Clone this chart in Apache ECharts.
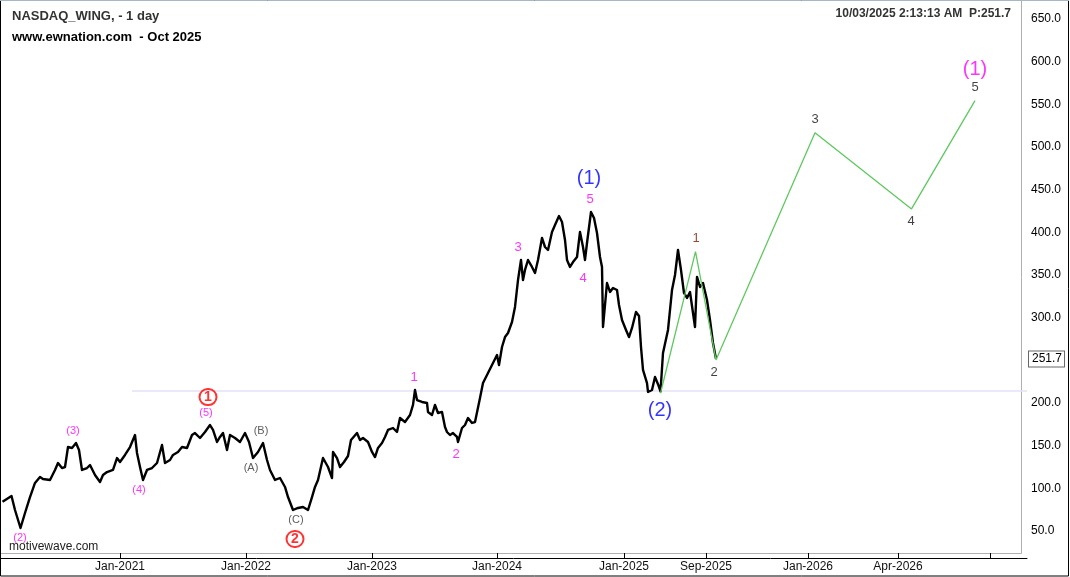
<!DOCTYPE html>
<html>
<head>
<meta charset="utf-8">
<script src="https://cdn.jsdelivr.net/npm/echarts@6/dist/echarts.min.js"></script>
<style>
html, body { margin: 0; padding: 0; background: #fff; }
#chart { width: 1070px; height: 577px; }
</style>
</head>
<body>
<div id="chart"></div>
<script>
// x = bar number: one per trading day in the history, two per calendar day in the projection
const history = [
  [5,84.3],[23,91.0],[30,74.6],[41,53.5],[50,71.1],[60,89.8],[70,106.3],[80,113.3],[86,110.9],[100,109.8],
  [110,121.5],[116,129.7],[124,123.8],[130,125.0],[136,148.4],[144,147.3],[152,153.1],[158,144.9],[164,121.5],[174,123.8],
  [180,127.3],[190,115.6],[200,107.4],[206,115.6],[214,119.1],[226,121.5],[234,135.5],[240,130.9],[250,139.1],[260,148.4],
  [270,162.5],[274,141.4],[280,125.0],[286,109.8],[294,121.5],[304,123.8],[314,129.7],[324,150.8],[330,129.7],[340,133.2],
  [346,139.1],[356,142.6],[364,148.4],[374,147.3],[384,162.5],[390,164.8],[400,159.0],[410,166.0],[420,174.2],[426,168.4],
  [434,154.3],[440,160.2],[446,164.8],[454,144.9],[460,162.5],[470,159.0],[480,154.3],[490,164.8],[498,154.3],[506,135.5],
  [516,142.6],[526,153.1],[534,133.2],[540,121.5],[550,109.8],[560,112.1],[570,101.6],[576,89.8],[586,74.6],[596,77.0],
  [606,78.1],[616,74.6],[624,89.8],[630,101.6],[636,109.8],[646,135.5],[656,125.0],[664,112.1],[666,142.6],[674,135.5],
  [680,125.0],[688,130.9],[696,137.9],[702,156.6],[714,164.8],[720,156.6],[726,159.0],[736,154.3],[744,142.6],[750,136.7],
  [756,147.3],[764,153.1],[770,160.2],[776,168.4],[786,170.7],[794,166.0],[800,182.4],[810,177.7],[820,185.9],[826,197.7],
  [830,215.2],[834,203.5],[844,201.2],[854,200.0],[856,189.5],[864,185.9],[870,197.7],[876,188.3],[884,189.5],[890,171.9],
  [894,166.0],[900,162.5],[906,164.8],[914,160.2],[916,154.3],[924,170.7],[930,174.2],[936,182.4],[944,176.6],[950,177.7],
  [954,176.6],[960,205.9],[966,223.4],[976,235.2],[984,244.5],[994,256.3],[998,244.5],[1004,265.6],[1010,277.3],[1016,282.0],
  [1024,294.9],[1030,312.5],[1036,344.1],[1042,367.6],[1046,344.1],[1050,355.9],[1056,367.6],[1064,359.4],[1070,352.3],[1076,367.6],
  [1084,393.4],[1090,382.8],[1096,379.3],[1104,400.4],[1110,408.6],[1118,419.1],[1124,412.1],[1130,391.0],[1134,367.6],[1140,359.4],
  [1146,365.2],[1154,371.1],[1160,400.4],[1166,382.8],[1170,367.6],[1174,387.5],[1182,423.8],[1188,416.8],[1194,399.2],[1200,371.1],
  [1204,359.4],[1206,289.1],[1214,340.6],[1220,330.1],[1226,334.8],[1234,332.4],[1238,314.8],[1244,297.3],[1252,285.6],[1258,277.3],
  [1264,287.9],[1272,306.6],[1278,301.9],[1282,265.6],[1286,238.7],[1294,223.4],[1296,212.9],[1304,215.2],[1310,230.5],[1316,222.0],
  [1321,213.5],[1326,258.6],[1336,285.6],[1344,332.4],[1350,350.0],[1356,379.3],[1362,355.9],[1368,328.9],[1374,323.1],[1380,330.1],
  [1386,305.5],[1390,289.1],[1394,347.7],[1400,335.9],[1406,340.6],[1414,320.7],[1420,297.3],[1426,270.3],[1432,251.7]
];
const lastPrice = 251.7;

const projBars = [1321, 1391, 1432, 1630, 1823, 1950];
const projPrices = [211.4, 377.3, 250.4, 516.8, 427.4, 554.3];

const supportLevel = 214.1;
const supportFrom = 264;

const tickBars = [240, 492, 744, 994, 1248, 1412, 1616, 1796, 1980];
const tickLabels = ['Jan-2021', 'Jan-2022', 'Jan-2023', 'Jan-2024', 'Jan-2025', 'Sep-2025', 'Jan-2026', 'Apr-2026', ''];
const priceLabels = [50, 100, 150, 200, 250, 300, 350, 400, 450, 500, 550, 600, 650];

// wave labels: [bar, pivot price, text]
const minorTops = [[146,153.1,'(3)'], [412,174.2,'(5)']];
const minorBottoms = [[40,53.5,'(2)'], [278,109.8,'(4)']];
const subTops = [[828,215.2,'1'], [1036,367.6,'3'], [1180,423.8,'5']];
const subBottoms = [[912,154.3,'2'], [1166,360.0,'4']];
const abcTops = [[522,153.1,'(B)']];
const abcBottoms = [[502,135.5,'(A)'], [592,74.6,'(C)']];
const projFirst = [[1392,377.3,'1']];
const projTops = [[1630,516.8,'3'], [1950,554.3,'5']];
const projBottoms = [[1428,250.4,'2'], [1822,427.4,'4']];
const primaryTop = [[1178,423.8,'(1)']];
const primaryBottom = [[1320,211.4,'(2)']];
const nextDegree = [[1950,554.3,'(1)']];
const circleTop = [[416,174.2,'1']];
const circleBottom = [[590,74.6,'2']];

const priceTicks = [];
for (let v = 20; v <= 660; v += 10) priceTicks.push(v);

const FONT = 'Liberation Sans, Arial, sans-serif';

function labelSeries(points, position, color, fontSize, distance, extra) {
  return {
    type: 'scatter',
    data: points,
    symbolSize: 1,
    itemStyle: { color: 'rgba(0,0,0,0)' },
    silent: true,
    z: 5,
    label: Object.assign({
      show: true, position: position, distance: distance,
      color: color, fontSize: fontSize, fontFamily: FONT,
      formatter: p => p.value[2]
    }, extra || {})
  };
}

const circleRich = {
  c: { width: 15, height: 15, lineHeight: 15, borderRadius: 10, borderWidth: 2, borderColor: '#f00',
       color: '#f00', fontSize: 14, fontWeight: 'bold', align: 'center', fontFamily: FONT, padding: [1, 1, 0, 1] }
};

const chart = echarts.init(document.getElementById('chart'));

chart.setOption({
  animation: false,
  textStyle: { fontFamily: FONT },
  title: [
    { text: 'NASDAQ_WING, - 1 day', left: 7, top: 5,
      textStyle: { fontSize: 13, fontWeight: 'bold', color: '#333', fontFamily: FONT } },
    { text: 'www.ewnation.com  - Oct 2025', left: 7, top: 26,
      textStyle: { fontSize: 13, fontWeight: 'bold', color: '#000', fontFamily: FONT } },
    { text: '10/03/2025 2:13:13 AM  P:251.7', right: 54, top: 3,
      textStyle: { fontSize: 12, fontWeight: 'bold', color: '#333', fontFamily: FONT } },
    { text: 'motivewave.com', left: 4, top: 536,
      textStyle: { fontSize: 12, fontWeight: 'normal', color: '#222', fontFamily: FONT } }
  ],
  graphic: [
    { type: 'rect', shape: { x: 0.5, y: 0.5, width: 1068, height: 575.5 },
      style: { fill: 'none', stroke: '#000', lineWidth: 1 }, silent: true },
    { type: 'line', shape: { x1: 0, y1: 0.5, x2: 1069, y2: 0.5 },
      style: { stroke: '#a9b6c4', lineWidth: 1 }, silent: true },
    { type: 'polyline', shape: { points: [[0, 553.5], [1021.5, 553.5], [1021.5, 1]] },
      style: { fill: 'none', stroke: '#b0b0b0', lineWidth: 1 }, silent: true }
  ],
  grid: { left: 0, right: 43, top: 2, bottom: 19 },
  xAxis: {
    type: 'value', min: 0, max: 2054,
    axisLine: { show: true, onZero: false, lineStyle: { color: '#000', width: 1 } },
    axisTick: { show: true, inside: true, length: 5, customValues: tickBars, lineStyle: { color: '#000' } },
    axisLabel: { customValues: tickBars, margin: 3, fontSize: 12, color: '#111', fontFamily: FONT,
      formatter: v => tickLabels[tickBars.indexOf(v)] || '' },
    splitLine: { show: false }
  },
  yAxis: {
    type: 'value', position: 'right', min: 18.36, max: 669.9,
    axisLine: { show: true, lineStyle: { color: '#000', width: 1 } },
    axisTick: { show: true, inside: true, length: 5, customValues: priceTicks, lineStyle: { color: '#000' } },
    axisLabel: { customValues: priceLabels, margin: 4, fontSize: 12, color: '#000', fontFamily: FONT,
      formatter: v => v.toFixed(1) },
    splitLine: { show: false }
  },
  series: [
    {
      type: 'line', silent: true, symbol: 'none', z: 1,
      data: [[supportFrom, supportLevel], [2054, supportLevel]],
      lineStyle: { color: '#e4e2f6', width: 1.5 }
    },
    {
      type: 'line', silent: true, symbol: 'none', z: 2,
      data: history,
      lineStyle: { color: '#000', width: 2.4, join: 'round' },
      markLine: {
        silent: true, symbol: 'none', animation: false,
        lineStyle: { color: 'rgba(0,0,0,0)', width: 0 },
        label: { show: true, position: 'end', distance: 2, formatter: lastPrice.toFixed(1), color: '#000', fontSize: 12,
          fontFamily: FONT, backgroundColor: '#fff', borderColor: '#666', borderWidth: 1, padding: [2, 2, 1, 3] },
        data: [{ yAxis: lastPrice }]
      }
    },
    {
      type: 'line', silent: true, symbol: 'none', z: 3,
      data: projBars.map((b, i) => [b, projPrices[i]]),
      lineStyle: { color: '#5ec95e', width: 1.3 }
    },
    labelSeries(minorTops, 'top', '#ff00ff', 11, 6),
    labelSeries(minorBottoms, 'bottom', '#ff00ff', 11, 4),
    labelSeries(subTops, 'top', '#ff00ff', 13, 6),
    labelSeries(subBottoms, 'bottom', '#ff00ff', 13, 5),
    labelSeries(abcTops, 'top', '#333', 11, 6),
    labelSeries(abcBottoms, 'bottom', '#333', 11, 4),
    labelSeries(projFirst, 'top', '#7a1a00', 13, 6),
    labelSeries(projTops, 'top', '#111', 13, 6),
    labelSeries(projBottoms, 'bottom', '#111', 13, 5),
    labelSeries(primaryTop, 'top', '#0000ff', 20, 23),
    labelSeries(primaryBottom, 'bottom', '#0000ff', 20, 7),
    labelSeries(nextDegree, 'top', '#ff00ff', 20, 21),
    labelSeries(circleTop, 'top', '#f00', 14, 20, { formatter: p => '{c|' + p.value[2] + '}', rich: circleRich }),
    labelSeries(circleBottom, 'bottom', '#f00', 14, 21, { formatter: p => '{c|' + p.value[2] + '}', rich: circleRich })
  ]
});
</script>
</body>
</html>
